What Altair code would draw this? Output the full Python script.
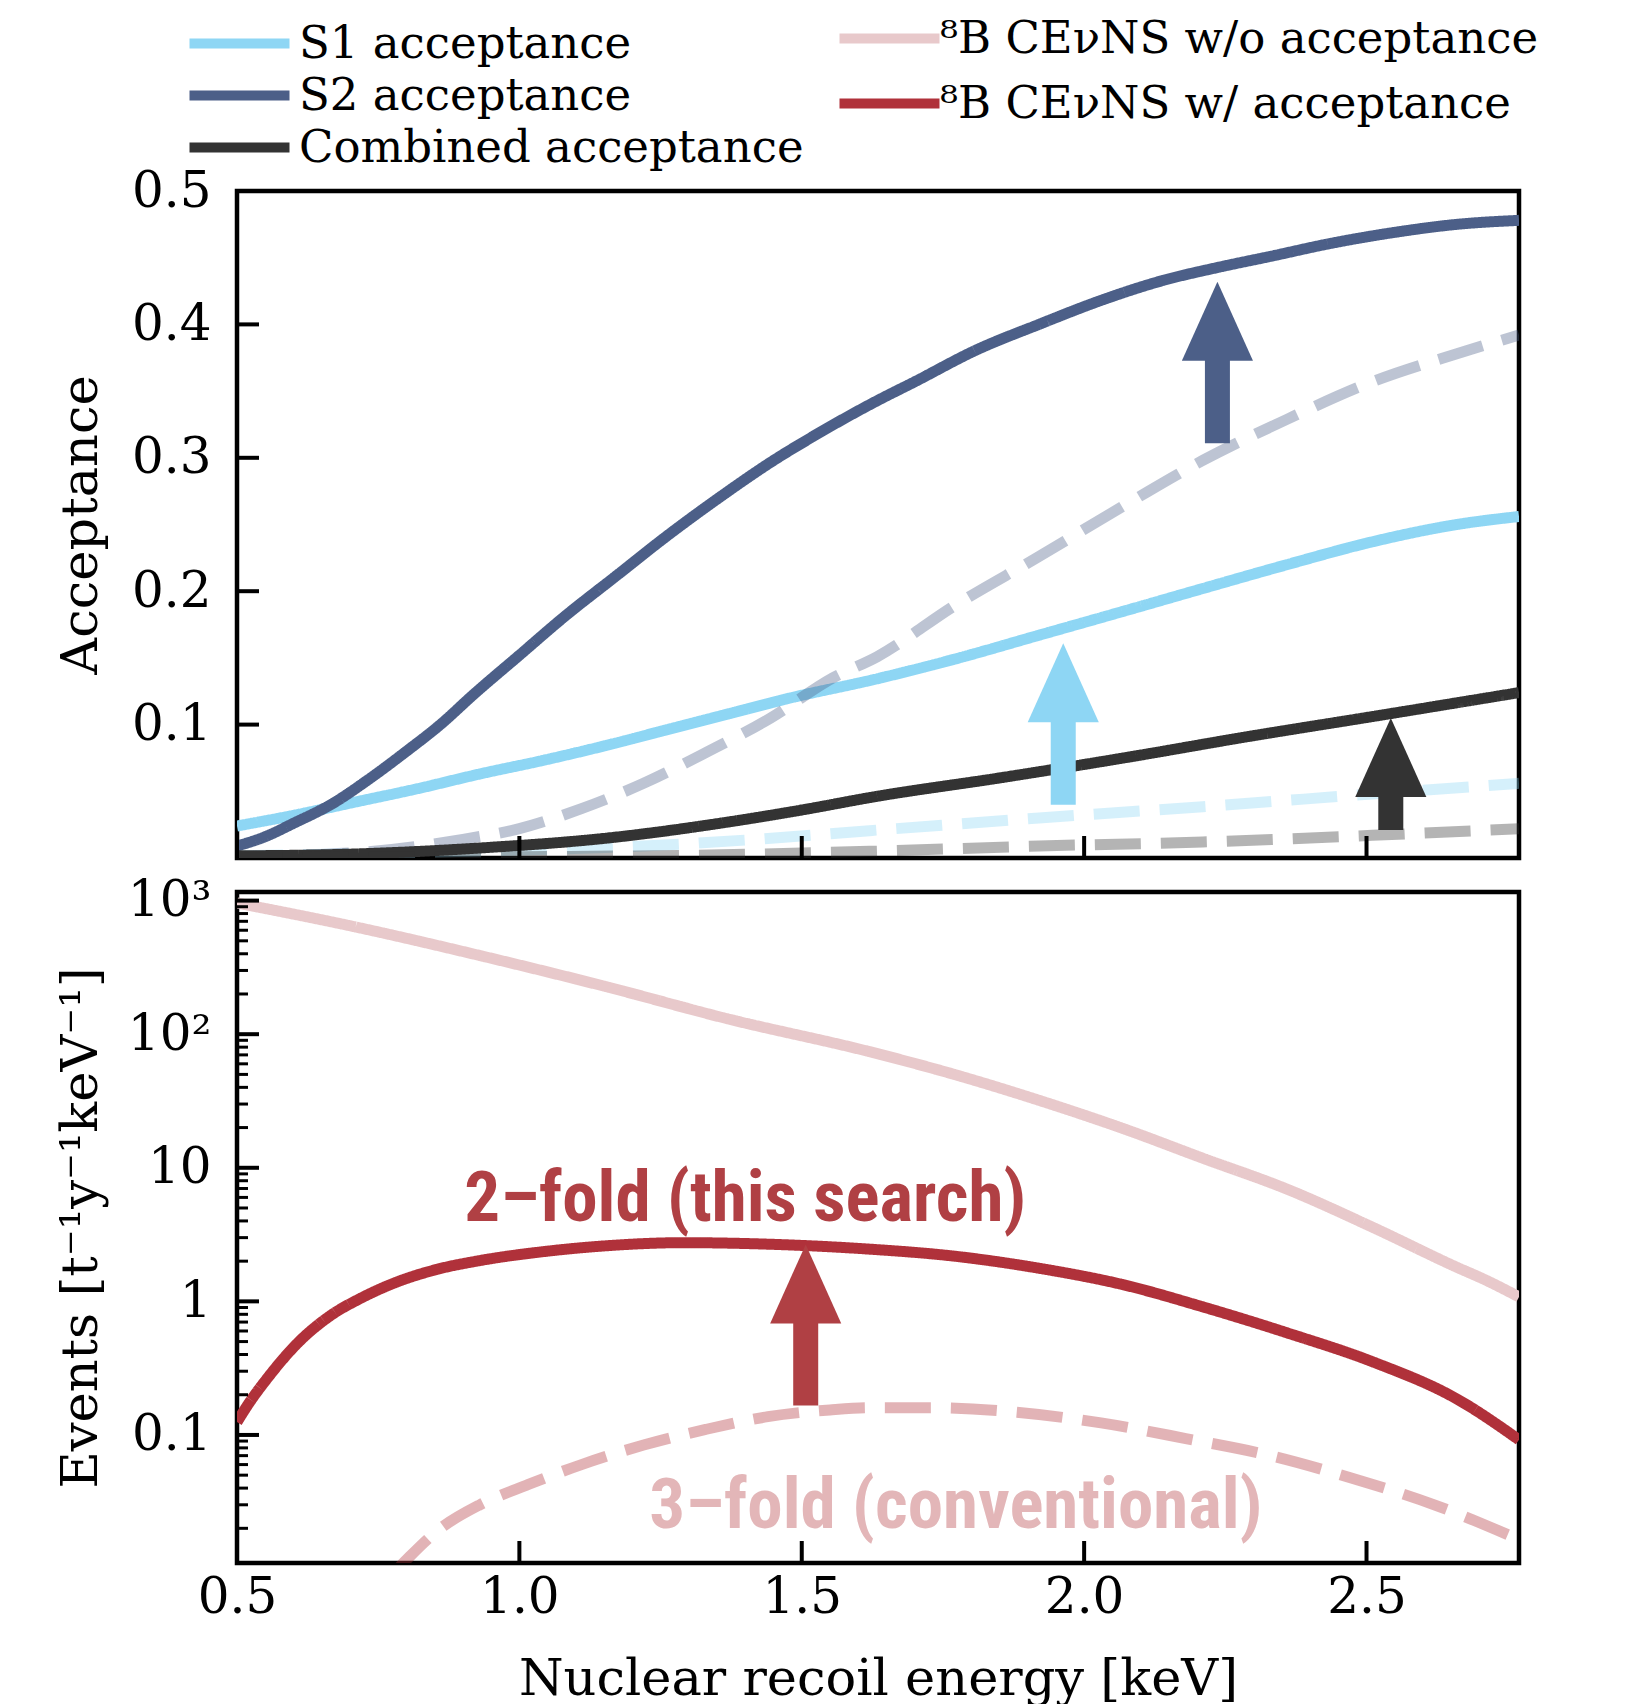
import altair as alt
import pandas as pd

# ---------------- top panel: acceptance curves ----------------
S1_X = [0.5, 0.6, 0.71, 0.82, 0.93, 1.04, 1.15, 1.26, 1.37, 1.48, 1.63, 1.77, 1.92, 2.07, 2.21, 2.36, 2.51, 2.66, 2.77]
S1_Y = [0.024, 0.032, 0.042, 0.052, 0.063, 0.073, 0.084, 0.096, 0.108, 0.120, 0.134, 0.149, 0.167, 0.185, 0.202, 0.220, 0.237, 0.250, 0.256]

S2_X = [0.5, 0.55, 0.6, 0.67, 0.73, 0.8, 0.86, 0.92, 1.0, 1.08, 1.17, 1.26, 1.36, 1.45, 1.52, 1.63, 1.70, 1.81, 1.92, 2.03, 2.14, 2.24, 2.33, 2.44, 2.55, 2.66, 2.77]
S2_Y = [0.009, 0.016, 0.026, 0.041, 0.058, 0.080, 0.100, 0.123, 0.152, 0.181, 0.211, 0.241, 0.272, 0.298, 0.316, 0.342, 0.357, 0.381, 0.400, 0.418, 0.433, 0.443, 0.451, 0.461, 0.469, 0.475, 0.478]

COMB_X = [0.5, 0.71, 0.93, 1.15, 1.37, 1.5, 1.63, 1.85, 2.07, 2.29, 2.51, 2.77]
COMB_Y = [0.0016, 0.003, 0.0075, 0.0147, 0.027, 0.036, 0.046, 0.060, 0.075, 0.091, 0.106, 0.124]

S1_OLD_X = [0.5, 0.8, 1.0, 1.22, 1.42, 1.62, 1.92, 2.21, 2.51, 2.77]
S1_OLD_Y = [0.0016, 0.004, 0.006, 0.009, 0.014, 0.0205, 0.030, 0.0385, 0.048, 0.056]

S2_OLD_X = [0.5, 0.71, 0.9, 1.0, 1.11, 1.22, 1.33, 1.445, 1.555, 1.634, 1.77, 1.92, 2.07, 2.21, 2.36, 2.51, 2.66, 2.77]
S2_OLD_Y = [0.001, 0.004, 0.014, 0.022, 0.037, 0.056, 0.079, 0.105, 0.135, 0.151, 0.189, 0.226, 0.264, 0.298, 0.329, 0.357, 0.378, 0.392]

COMB_OLD_X = [0.5, 1.0, 1.3, 1.62, 1.92, 2.21, 2.51, 2.77]
COMB_OLD_Y = [0.0003, 0.001, 0.002, 0.005, 0.009, 0.012, 0.017, 0.022]

TOP_SERIES = ["S1 acceptance", "S2 acceptance", "Combined acceptance"]
TOP_COLORS = ["#8ed6f4", "#4c5f88", "#333333"]

ARROW_TOP_SERIES = ["S2 acceptance", "S1 acceptance", "Combined acceptance"]
ARROW_TOP_X = [2.236, 1.963, 2.543]
ARROW_TOP_TAIL = [0.311, 0.040, 0.021]
ARROW_TOP_TIP = [0.432, 0.161, 0.105]

# ---------------- bottom panel: 8B CEvNS spectra ----------------
NOACC_X = [0.5, 0.71, 0.93, 1.15, 1.37, 1.62, 1.77, 1.92, 2.07, 2.21, 2.36, 2.51, 2.66, 2.71, 2.77]
NOACC_Y = [960, 635, 388, 229, 130, 74, 50, 32, 19.6, 11.8, 6.9, 3.6, 1.8, 1.45, 1.08]

ACC2_X = [0.5, 0.52, 0.555, 0.61, 0.665, 0.72, 0.78, 0.855, 0.93, 1.04, 1.15, 1.29, 1.44, 1.62, 1.77, 1.92, 2.07, 2.21, 2.36, 2.51, 2.66, 2.77]
ACC2_Y = [0.125, 0.17, 0.27, 0.50, 0.78, 1.06, 1.38, 1.74, 2.02, 2.35, 2.6, 2.75, 2.68, 2.46, 2.18, 1.77, 1.33, 0.91, 0.58, 0.354, 0.186, 0.092]

ACC3_X = [0.78, 0.805, 0.855, 0.93, 1.016, 1.11, 1.22, 1.33, 1.44, 1.55, 1.62, 1.73, 1.88, 2.03, 2.18, 2.33, 2.47, 2.62, 2.77]
ACC3_Y = [0.0095, 0.0122, 0.0192, 0.030, 0.0426, 0.060, 0.084, 0.110, 0.137, 0.154, 0.160, 0.160, 0.148, 0.123, 0.094, 0.070, 0.048, 0.030, 0.0165]

BOT_SERIES = ["\u2078B CE\u03bdNS w/o acceptance", "\u2078B CE\u03bdNS w/ acceptance"]
BOT_COLORS = ["#e8c9cb", "#b0313a"]

ARROW_BOT_X = [1.507]
ARROW_BOT_TAIL = [0.166]
ARROW_BOT_TIP = [2.67]
ARROW_BOT_COLOR = ["#b04044"]

NOTE_TEXT = ["2\u2013fold (this search)", "3\u2013fold (conventional)"]
NOTE_X = [1.40, 1.773]
NOTE_Y = [4.0, 0.020]
NOTE_COLOR = ["#b04044", "#e3b6b8"]

X_TICKS = [0.5, 1.0, 1.5, 2.0, 2.5]
TOP_Y_TICKS = [0.1, 0.2, 0.3, 0.4, 0.5]
BOT_Y_MAJOR = [0.1, 1, 10, 100, 1000]
BOT_Y_MINOR = [m * d for d in [0.01, 0.1, 1, 10, 100] for m in range(2, 10)]

W = 1282
H_TOP = 667
H_BOT = 671
SERIF = "DejaVu Serif"
CONDENSED = "Roboto Condensed, DejaVu Sans Condensed, Noto Sans Condensed, Liberation Sans Narrow, Arial Narrow, sans-serif"
HEAD = "M0,0 L0.9,2 L-0.9,2 Z"
LEG_SYMBOL = "M-5,0 L5,0"


def rows(name, kind, xs, ys):
    return [dict(x=a, y=b, series=name, kind=kind) for a, b in zip(xs, ys)]


top_df = pd.DataFrame(
    rows(TOP_SERIES[0], "solid", S1_X, S1_Y)
    + rows(TOP_SERIES[0], "dashed", S1_OLD_X, S1_OLD_Y)
    + rows(TOP_SERIES[1], "solid", S2_X, S2_Y)
    + rows(TOP_SERIES[1], "dashed", S2_OLD_X, S2_OLD_Y)
    + rows(TOP_SERIES[2], "solid", COMB_X, COMB_Y)
    + rows(TOP_SERIES[2], "dashed", COMB_OLD_X, COMB_OLD_Y)
)
bot_df = pd.DataFrame(
    rows(BOT_SERIES[0], "solid", NOACC_X, NOACC_Y)
    + rows(BOT_SERIES[1], "dashed", ACC3_X, ACC3_Y)
    + rows(BOT_SERIES[1], "solid", ACC2_X, ACC2_Y)
)
legend_df = pd.DataFrame(rows(BOT_SERIES[0], "solid", NOACC_X[:2], [0.2, 0.2])
                         + rows(BOT_SERIES[1], "solid", NOACC_X[:2], [0.2, 0.2]))

col_of = dict(zip(TOP_SERIES, TOP_COLORS))
arrow_top = pd.DataFrame({
    "x": ARROW_TOP_X,
    "y": ARROW_TOP_TAIL,
    "y2": [t - 0.04 for t in ARROW_TOP_TIP],
    "tip": ARROW_TOP_TIP,
    "acolor": [col_of[s] for s in ARROW_TOP_SERIES],
})
arrow_bot = pd.DataFrame({
    "x": ARROW_BOT_X,
    "y": ARROW_BOT_TAIL,
    "y2": [t / 2.8 for t in ARROW_BOT_TIP],
    "tip": ARROW_BOT_TIP,
    "acolor": ARROW_BOT_COLOR,
})
notes = pd.DataFrame({"x": NOTE_X, "y": NOTE_Y, "text": NOTE_TEXT, "tcolor": NOTE_COLOR})

xscale = alt.Scale(domain=[0.5, 2.77], nice=False, zero=False)
X_TOP = alt.X("x:Q", scale=xscale, axis=None)
X_BOT = alt.X("x:Q", scale=xscale, axis=alt.Axis(
    values=X_TICKS, format=".1f", title="Nuclear recoil energy [keV]",
    labelPadding=9, labelFlush=False, titleBaseline="alphabetic", titleY=131))

Y_TOP = alt.Y("y:Q", scale=alt.Scale(domain=[0, 0.5], nice=False, zero=False), axis=alt.Axis(
    values=TOP_Y_TICKS, format=".1f", title="Acceptance", labelPadding=26,
    titleX=-141, titleBaseline="alphabetic"))
Y_BOT = alt.Y("y:Q", scale=alt.Scale(type="log", domain=[0.011, 1160], nice=False), axis=alt.Axis(
    values=BOT_Y_MAJOR,
    labelExpr="datum.value > 999 ? '10\u00b3' : datum.value > 99 ? '10\u00b2' : datum.value > 9 ? '10' : datum.value > 0.9 ? '1' : '0.1'",
    title="Events [t\u207b\u00b9y\u207b\u00b9keV\u207b\u00b9]", labelPadding=26,
    titleX=-141, titleBaseline="alphabetic"))

dash = alt.StrokeDash("kind:N", scale=alt.Scale(domain=["solid", "dashed"], range=[[1, 0], [46, 20]]), legend=None)
opac_top = alt.Opacity("kind:N", scale=alt.Scale(domain=["solid", "dashed"], range=[1, 0.37]), legend=None)
opac_bot = alt.Opacity("kind:N", scale=alt.Scale(domain=["solid", "dashed"], range=[1, 0.38]), legend=None)


def legend(lx, ly, rowpad, loff):
    return alt.Legend(title=None, orient="none", legendX=lx, legendY=ly, symbolType=LEG_SYMBOL,
                      symbolSize=400, symbolStrokeWidth=10, symbolOpacity=1, symbolFillColor="transparent",
                      labelFont=SERIF, labelFontSize=45, labelColor="black", labelOffset=loff,
                      labelLimit=0, rowPadding=rowpad, padding=0, direction="vertical")


top_lines = alt.Chart(top_df).mark_line(strokeWidth=11, clip=True, interpolate="monotone").encode(
    x=X_TOP, y=Y_TOP,
    color=alt.Color("series:N", scale=alt.Scale(domain=TOP_SERIES, range=TOP_COLORS),
                    legend=legend(-20, -170, 6, 37)),
    strokeDash=dash, opacity=opac_top)

# legend for the lower panel's curves, drawn at the top of the figure
bot_legend = alt.Chart(legend_df).mark_line(strokeWidth=11, opacity=0, clip=True).encode(
    x=X_TOP, y=Y_TOP,
    stroke=alt.Stroke("series:N", scale=alt.Scale(domain=BOT_SERIES, range=BOT_COLORS),
                      legend=legend(630, -175, 19, 28)))

bot_lines = alt.Chart(bot_df).mark_line(strokeWidth=11, clip=True, interpolate="monotone").encode(
    x=X_BOT, y=Y_BOT,
    color=alt.Color("series:N", scale=alt.Scale(domain=BOT_SERIES, range=BOT_COLORS), legend=None),
    strokeDash=dash, opacity=opac_bot)


def arrows(df, X, Y):
    shaft = alt.Chart(df).mark_rule(strokeWidth=25, strokeCap="butt").encode(
        x=X, y=Y, y2="y2:Q", color=alt.Color("acolor:N", scale=None))
    head = alt.Chart(df).mark_point(shape=HEAD, size=6241, filled=True, opacity=1, strokeWidth=0).encode(
        x=X, y=alt.Y("tip:Q"), color=alt.Color("acolor:N", scale=None))
    return [shaft, head]


def ticks(yvals_major, yvals_minor, h, X, Y):
    layers = []
    layers.append(alt.Chart(pd.DataFrame({"y": yvals_major})).mark_rule(
        color="black", strokeWidth=4, strokeCap="butt").encode(y=Y, x=alt.value(0), x2=alt.value(22)))
    if yvals_minor:
        layers.append(alt.Chart(pd.DataFrame({"y": yvals_minor})).mark_rule(
            color="black", strokeWidth=3, strokeCap="butt").encode(y=Y, x=alt.value(0), x2=alt.value(11)))
    layers.append(alt.Chart(pd.DataFrame({"x": X_TICKS})).mark_rule(
        color="black", strokeWidth=4, strokeCap="butt").encode(x=X, y=alt.value(h), y2=alt.value(h - 22)))
    return layers


bot_minor = [v for v in BOT_Y_MINOR if 0.011 < v < 1160]

top = alt.layer(top_lines, bot_legend, *arrows(arrow_top, X_TOP, Y_TOP),
                *ticks(TOP_Y_TICKS, [], H_TOP, X_TOP, Y_TOP)).properties(width=W, height=H_TOP)

note_layer = alt.Chart(notes).mark_text(font=CONDENSED, fontWeight="bold", fontSize=71,
                                        align="center", baseline="alphabetic").encode(
    x=X_BOT, y=Y_BOT, text="text:N", color=alt.Color("tcolor:N", scale=None))

bottom = alt.layer(bot_lines, *arrows(arrow_bot, X_BOT, Y_BOT), note_layer,
                   *ticks(BOT_Y_MAJOR, bot_minor, H_BOT, X_BOT, Y_BOT)).properties(width=W, height=H_BOT)

chart = alt.vconcat(top, bottom, spacing=10).resolve_scale(color="independent", stroke="independent").properties(
    padding={"left": 52, "top": 13, "right": 5, "bottom": 0}, background="white"
).configure_view(stroke="black", strokeWidth=4.5).configure_axis(
    labelFont=SERIF, titleFont=SERIF, labelFontSize=50, titleFontSize=51, labelColor="black",
    titleColor="black", titleFontWeight="normal", grid=False, ticks=False, domain=False)

chart.save("out.html", embed_options={"renderer": "svg", "actions": False})
